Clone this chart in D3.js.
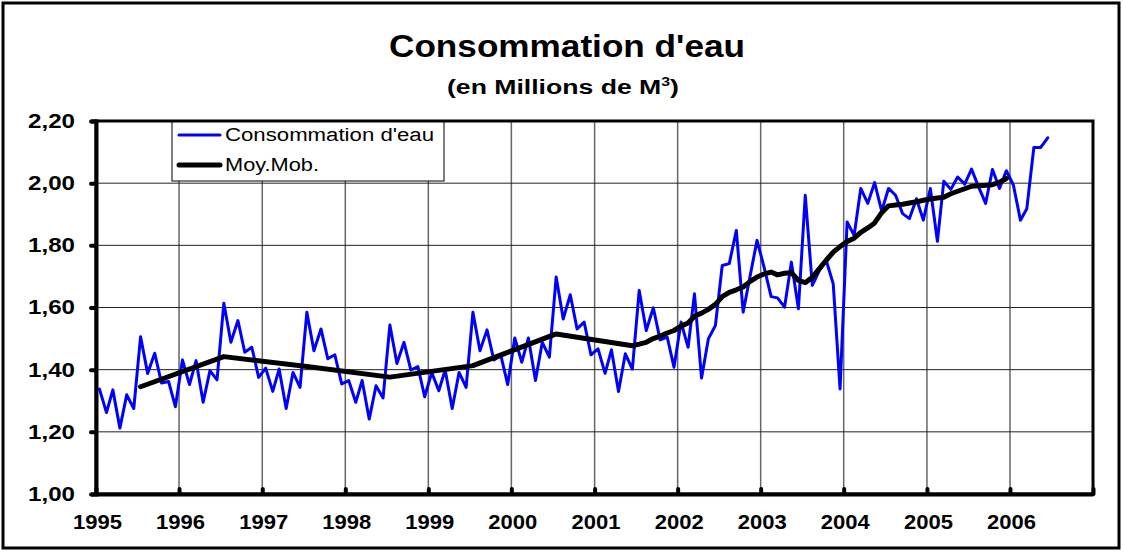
<!DOCTYPE html>
<html>
<head>
<meta charset="utf-8">
<script src="https://cdn.jsdelivr.net/npm/d3@7"></script>
<style>
	body { margin: 0; background: #fff; font-family: 'Liberation Sans', Arial, sans-serif; }
	svg { display: block; }
	.tick text { font-family: 'Liberation Sans', Arial, sans-serif; font-weight: bold; font-size: 20px; fill: #000; }
</style>
</head>
<body>
<svg id="chart" width="1123" height="552"></svg>
<script>
	// monthly water consumption, starting January 1995
	var consoStart = "1995-01";
	var consoValues = [
		1.338, 1.262, 1.335, 1.212, 1.319, 1.275, 1.506, 1.388, 1.453, 1.357, 1.362, 1.281,
		1.431, 1.352, 1.429, 1.295, 1.397, 1.367, 1.614, 1.488, 1.558, 1.456, 1.472, 1.375,
		1.405, 1.330, 1.402, 1.275, 1.391, 1.343, 1.585, 1.461, 1.531, 1.435, 1.448, 1.354,
		1.365, 1.295, 1.365, 1.241, 1.348, 1.309, 1.544, 1.420, 1.488, 1.399, 1.410, 1.313,
		1.391, 1.332, 1.399, 1.275, 1.391, 1.343, 1.585, 1.461, 1.528, 1.431, 1.445, 1.352,
		1.502, 1.424, 1.502, 1.365, 1.488, 1.440, 1.698, 1.563, 1.641, 1.531, 1.553, 1.448,
		1.467, 1.388, 1.464, 1.330, 1.451, 1.402, 1.655, 1.526, 1.599, 1.496, 1.505, 1.408,
		1.553, 1.472, 1.644, 1.373, 1.499, 1.542, 1.735, 1.741, 1.848, 1.585, 1.703, 1.816,
		1.730, 1.635, 1.631, 1.601, 1.746, 1.596, 1.961, 1.671, 1.719, 1.752, 1.676, 1.338,
		1.875, 1.832, 1.983, 1.935, 2.002, 1.910, 1.983, 1.961, 1.902, 1.886, 1.950, 1.881,
		1.983, 1.813, 2.006, 1.980, 2.020, 1.997, 2.045, 1.988, 1.935, 2.044, 1.983, 2.040,
		1.994, 1.881, 1.918, 2.115, 2.115, 2.146
	];

	// moving average ("Moy.Mob.")
	var maMonths = [
		"1995-07", "1996-07", "1997-07", "1998-07", "1999-07", "2000-07",
		"2001-06", "2001-07", "2001-08", "2001-09", "2001-10", "2001-11", "2001-12",
		"2002-01", "2002-02", "2002-03", "2002-04", "2002-05", "2002-06",
		"2002-07", "2002-08", "2002-09", "2002-10", "2002-11", "2002-12",
		"2003-01", "2003-02", "2003-03", "2003-04", "2003-05", "2003-06",
		"2003-07", "2003-08", "2003-09", "2003-10", "2003-11", "2003-12",
		"2004-01", "2004-02", "2004-03", "2004-04", "2004-05", "2004-06",
		"2004-07", "2004-08", "2004-09", "2004-10", "2004-11", "2004-12",
		"2005-01", "2005-02", "2005-03", "2005-04", "2005-05", "2005-06",
		"2005-07", "2005-08", "2005-09", "2005-10", "2005-11", "2005-12"
	];
	var maValues = [
		1.345, 1.442, 1.410, 1.376, 1.413, 1.515,
		1.477, 1.482, 1.488, 1.500, 1.508, 1.518, 1.526,
		1.540, 1.550, 1.572, 1.582, 1.594, 1.610,
		1.635, 1.649, 1.657, 1.666, 1.684, 1.698,
		1.708, 1.714, 1.705, 1.710, 1.712, 1.687,
		1.680, 1.697, 1.725, 1.752, 1.778, 1.796,
		1.812, 1.823, 1.842, 1.856, 1.872, 1.905,
		1.927, 1.930, 1.932, 1.936, 1.940, 1.945,
		1.949, 1.952, 1.955, 1.966, 1.974, 1.982,
		1.990, 1.992, 1.993, 1.995, 2.003, 2.015
	];

	var yearLabels = ["1995", "1996", "1997", "1998", "1999", "2000", "2001", "2002", "2003", "2004", "2005", "2006"];
	var yTicks = [1.0, 1.2, 1.4, 1.6, 1.8, 2.0, 2.2];
	var seriesNames = ["Consommation d'eau", "Moy.Mob."];

	var svg = d3.select('#chart');
	var plot = { left: 96, right: 1093, top: 121, bottom: 494 };

	var parseMonth = d3.utcParse('%Y-%m');
	// points sit in the middle of their month
	var mid = function(d) { return d3.utcDay.offset(d, 15); };

	var start = parseMonth(consoStart);
	var conso = consoValues.map(function(v, i) {
		return { date: mid(d3.utcMonth.offset(start, i)), value: v };
	});
	var ma = maMonths.map(function(m, i) {
		return { date: mid(parseMonth(m)), value: maValues[i] };
	});

	var x = d3.scaleUtc()
		.domain([new Date(Date.UTC(1995, 0, 1)), new Date(Date.UTC(2007, 0, 1))])
		.range([plot.left, plot.right]);
	var y = d3.scaleLinear().domain([1, 2.2]).range([plot.bottom, plot.top]);

	var frFormat = d3.formatLocale({ decimal: ',', thousands: ' ', grouping: [3], currency: ['', ' €'] }).format('.2f');

	// outer frame
	svg.append('rect')
		.attr('x', 3).attr('y', 3).attr('width', 1116).attr('height', 545)
		.attr('fill', 'none').attr('stroke', '#000').attr('stroke-width', 3);

	// titles (the original text is drawn a bit wide, so stretch it)
	svg.append('text')
		.attr('x', 567).attr('y', 57)
		.attr('text-anchor', 'middle')
		.attr('font-size', 32).attr('font-weight', 'bold')
		.attr('textLength', 356).attr('lengthAdjust', 'spacingAndGlyphs')
		.text("Consommation d'eau");

	var sub = svg.append('text')
		.attr('x', 563).attr('y', 94)
		.attr('text-anchor', 'middle')
		.attr('font-size', 20).attr('font-weight', 'bold')
		.attr('textLength', 232).attr('lengthAdjust', 'spacingAndGlyphs');
	sub.append('tspan').text('(en Millions de M');
	sub.append('tspan').attr('dy', -8).attr('font-size', 12).text('3');
	sub.append('tspan').attr('dy', 8).text(')');

	// grid
	var years = yearLabels.map(function(s) { return parseMonth(s + '-01'); });
	svg.append('g').selectAll('line')
		.data(years.slice(1))
		.enter().append('line')
		.attr('x1', function(d) { return x(d); }).attr('x2', function(d) { return x(d); })
		.attr('y1', plot.top).attr('y2', plot.bottom)
		.attr('stroke', '#666').attr('stroke-width', 1.5);

	svg.append('g').selectAll('line')
		.data(yTicks.slice(1, -1))
		.enter().append('line')
		.attr('x1', plot.left).attr('x2', plot.right)
		.attr('y1', function(d) { return y(d); }).attr('y2', function(d) { return y(d); })
		.attr('stroke', '#222').attr('stroke-width', 1);

	// plot frame
	svg.append('rect')
		.attr('x', plot.left).attr('y', plot.top)
		.attr('width', plot.right - plot.left).attr('height', plot.bottom - plot.top)
		.attr('fill', 'none').attr('stroke', '#000').attr('stroke-width', 3);

	// axes
	var yAxis = svg.append('g')
		.attr('transform', 'translate(' + plot.left + ',0)')
		.call(d3.axisLeft(y).tickValues(yTicks).tickFormat(frFormat).tickSize(5).tickPadding(16));
	yAxis.select('.domain').attr('stroke-width', 4);
	yAxis.selectAll('.tick line').attr('stroke-width', 4).attr('stroke-linecap', 'round');
	yAxis.selectAll('.tick text').attr('textLength', 47).attr('lengthAdjust', 'spacingAndGlyphs');

	var xAxis = svg.append('g')
		.attr('transform', 'translate(0,' + plot.bottom + ')')
		.call(d3.axisBottom(x).tickValues(years.concat([parseMonth('2007-01')]))
			.tickFormat(function(d, i) { return yearLabels[i] || ''; })
			.tickSizeInner(-5).tickSizeOuter(0).tickPadding(21));
	xAxis.select('.domain').attr('stroke-width', 4);
	xAxis.selectAll('.tick line').attr('stroke-width', 4).attr('stroke-linecap', 'round');
	xAxis.selectAll('.tick text')
		.filter(function() { return this.textContent !== ''; })
		.attr('dx', 1).attr('textLength', 49).attr('lengthAdjust', 'spacingAndGlyphs');

	// series
	var line = d3.line()
		.x(function(d) { return x(d.date); })
		.y(function(d) { return y(d.value); });

	svg.append('path').datum(conso)
		.attr('d', line)
		.attr('fill', 'none').attr('stroke', '#0000ff').attr('stroke-width', 3)
		.attr('stroke-linejoin', 'round').attr('stroke-linecap', 'round');

	svg.append('path').datum(ma)
		.attr('d', line)
		.attr('fill', 'none').attr('stroke', '#000').attr('stroke-width', 5)
		.attr('stroke-linejoin', 'round').attr('stroke-linecap', 'round');

	// legend
	var legend = svg.append('g').attr('transform', 'translate(172,122)');
	legend.append('rect')
		.attr('width', 272).attr('height', 59)
		.attr('fill', '#fff').attr('stroke', '#000').attr('stroke-width', 1);
	var legendColors = ['#0000ff', '#000'];
	var legendWidths = [3, 5];
	var legendLengths = [209, 94];
	seriesNames.forEach(function(name, i) {
		var yy = 13 + i * 30;
		legend.append('line')
			.attr('x1', 7).attr('x2', 48).attr('y1', yy).attr('y2', yy)
			.attr('stroke', legendColors[i]).attr('stroke-width', legendWidths[i])
			.attr('stroke-linecap', 'round');
		legend.append('text')
			.attr('x', 53).attr('y', yy + 6)
			.attr('font-size', 18)
			.attr('textLength', legendLengths[i]).attr('lengthAdjust', 'spacingAndGlyphs')
			.text(name);
	});
</script>
</body>
</html>
